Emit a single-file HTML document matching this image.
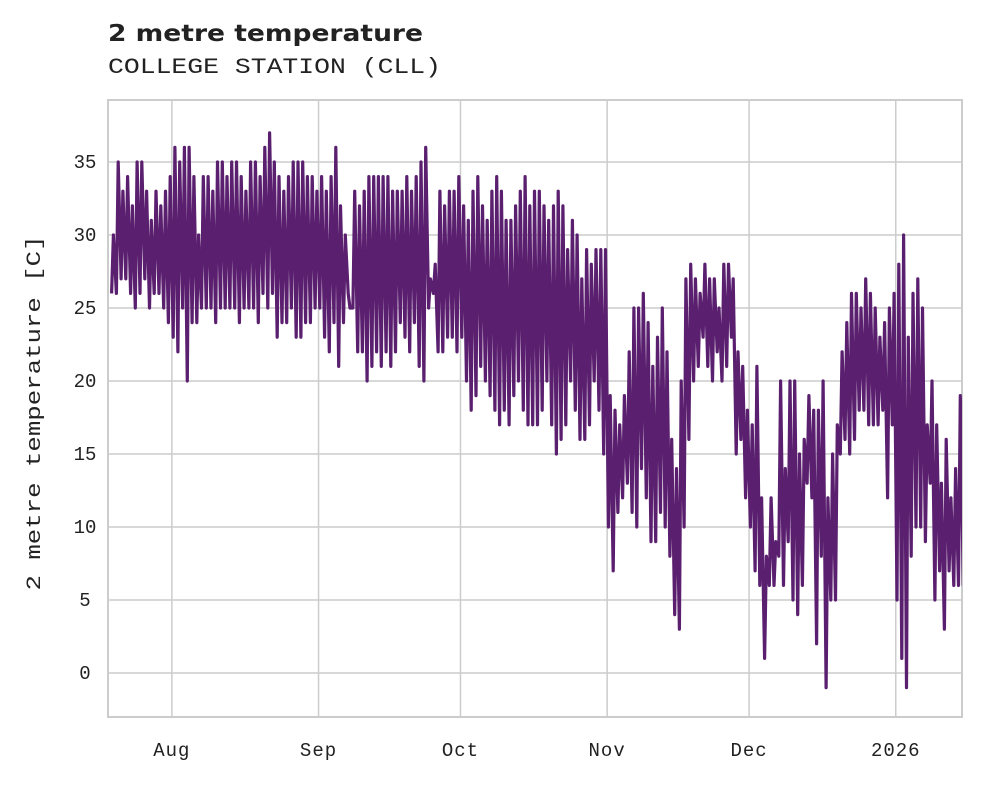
<!DOCTYPE html>
<html><head><meta charset="utf-8"><style>
body{margin:0;background:#fff;width:981px;height:782px;overflow:hidden}
text{font-family:"Liberation Mono","DejaVu Sans Mono",monospace;fill:#222}
</style></head><body>
<svg id="chart" width="981" height="782" viewBox="0 0 981 782">
<text x="108" y="41" textLength="315" lengthAdjust="spacingAndGlyphs" style="font-family:'DejaVu Sans','Liberation Sans',sans-serif;font-weight:bold;font-size:23px">2 metre temperature</text>
<text x="108" y="73" font-size="22" textLength="333" lengthAdjust="spacingAndGlyphs">COLLEGE STATION (CLL)</text>
<g id="grid"></g>
<rect x="108" y="100" width="854" height="617" fill="none" stroke="#cccccc" stroke-width="2"/>
<clipPath id="clip"><rect x="108" y="100" width="854" height="617"/></clipPath>
<g id="series" clip-path="url(#clip)"></g>
<g id="ticks"></g>
<text transform="translate(40,413) rotate(-90)" text-anchor="middle" font-size="20" textLength="355" lengthAdjust="spacingAndGlyphs">2 metre temperature [C]</text>
</svg>
<script>
const startDate = "2025-07-19";
const dailyHigh = [30,35,33,34,32,35,35,33,31,33,32,33,34,
36,35,36,36,34,30,34,34,33,35,35,34,35,35,34,33,35,35,34,36,37,35,34,33,34,35,35,35,34,34,33,
34,33,34,36,32,30,25,33,32,33,34,34,34,34,34,33,33,33,34,33,34,35,36,27,28,33,32,33,33,34,
32,31,33,34,32,31,33,34,33,31,31,32,33,34,32,33,33,32,31,32,33,32,29,31,30,27,29,28,29,29,29,
19,18,17,19,22,25,25,26,24,21,23,25,22,16,14,20,27,28,27,26,28,27,27,25,28,28,27,22,21,18,
17,21,12,8,12,9,20,14,20,20,15,16,19,18,18,20,12,15,17,22,24,26,26,25,27,26,25,23,24,25,26,
28,30,23,26,27,25,17,20,17,13,16,12,14,19,19];
const dailyLow = [26,26,27,27,26,25,26,27,25,26,26,25,24,
23,22,25,20,24,24,25,25,25,24,25,25,25,25,24,25,25,25,24,26,25,26,23,24,24,25,23,23,24,24,25,
25,23,22,24,21,24,26,25,22,22,20,21,22,21,22,21,22,24,23,22,24,21,20,25,26,22,22,23,23,22,
23,20,18,19,21,20,19,18,17,18,17,19,20,18,17,17,17,18,20,17,15,16,17,20,18,16,16,17,20,18,15,
10,7,11,12,13,11,10,14,12,9,9,11,10,8,4,3,10,16,20,21,23,21,20,22,20,21,23,15,16,12,
10,7,6,1,6,6,8,6,9,5,4,6,13,12,2,8,-1,5,5,15,16,15,16,18,18,17,17,17,18,12,17,
5,1,-1,8,10,10,9,13,5,7,3,7,6,6,6];
const yTicks = [0,5,10,15,20,25,30,35];
const xTickDates = ["2025-08-01","2025-09-01","2025-10-01","2025-11-01","2025-12-01","2026-01-01"];
const xTickLabels = ["Aug","Sep","Oct","Nov","Dec","2026"];

const NS="http://www.w3.org/2000/svg";
const DAY=86400000, t0=Date.parse("2025-07-18T12:00:00Z"), t1=Date.parse("2026-01-15T00:00:00Z");
const x=t=>108+(t-t0)/(t1-t0)*854;
const y=v=>673-v*(511/35);
const grid=document.getElementById('grid'), ticks=document.getElementById('ticks'), series=document.getElementById('series');
function mk(tag,attrs,parent){const e=document.createElementNS(NS,tag);for(const k in attrs)e.setAttribute(k,attrs[k]);parent.appendChild(e);return e;}
yTicks.forEach(v=>{
  const l=mk('line',{x1:108,x2:962,y1:y(v),y2:y(v),stroke:'#cccccc','stroke-width':1.5},grid);
  
  
  const t=mk('text',{x:85,y:y(v)+6,'text-anchor':'middle','font-size':19},ticks);
  t.textContent=v;
  
  
});
xTickDates.forEach((d,i)=>{
  const xx=x(Date.parse(d+"T00:00:00Z"));
  const l=mk('line',{x1:xx,x2:xx,y1:100,y2:717,stroke:'#cccccc','stroke-width':1.5},grid);
  
  
  const t=mk('text',{x:xx,y:756,'text-anchor':'middle','font-size':19,'letter-spacing':1},ticks);
  t.textContent=xTickLabels[i];
  
  
});
const s0=Date.parse(startDate+"T00:00:00Z");
let pts=[];
for(let i=0;i<dailyHigh.length;i++){
  const d=s0+i*DAY;
  pts.push([x(d+0.27*DAY),y(dailyLow[i])]);
  pts.push([x(d+0.65*DAY),y(dailyHigh[i])]);
}
const p=mk('polyline',{points:pts.map(q=>q[0].toFixed(1)+','+q[1].toFixed(1)).join(' '),fill:'none',stroke:'#5a1f6e','stroke-width':3.2,'stroke-linejoin':'round'},series);


</script>
</body></html>
